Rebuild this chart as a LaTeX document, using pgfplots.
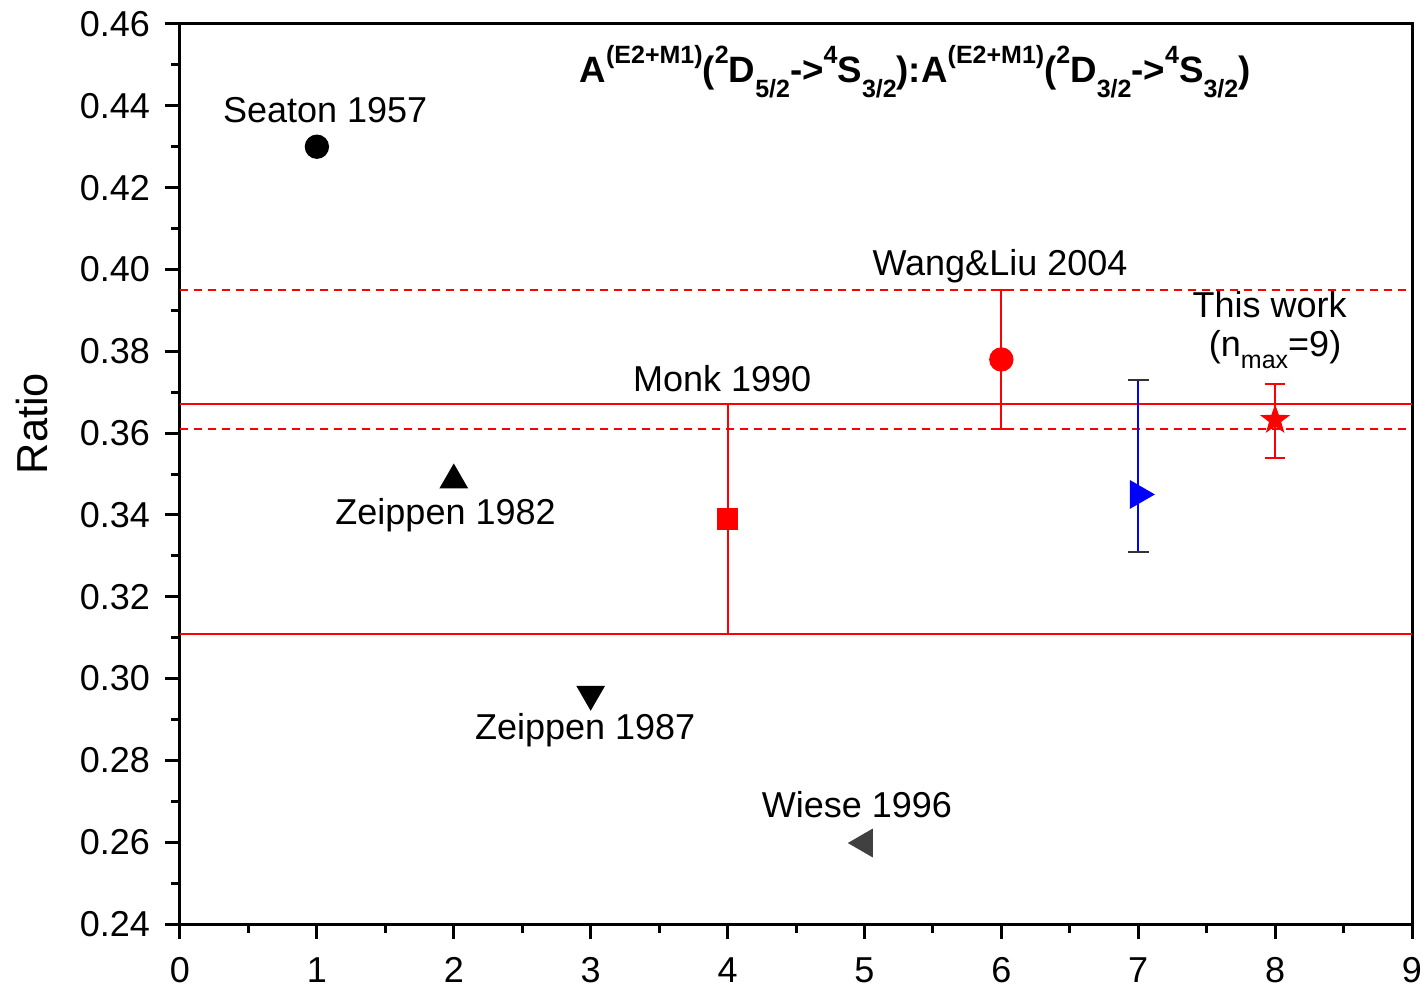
\documentclass[border=0pt]{standalone}
\usepackage{pgfplots}
\pgfplotsset{compat=1.18}
\usepackage{fontspec}
\setmainfont{Liberation Sans}
\usetikzlibrary{plotmarks}
\definecolor{wgray}{rgb}{0.25,0.25,0.25}
\newcommand\up[1]{\raisebox{5.4pt}{\fontsize{7.5}{8}\selectfont #1}}
\newcommand\dn[1]{\raisebox{-4.6pt}{\fontsize{7.5}{8}\selectfont #1}}
\newcommand\dnn[1]{\raisebox{-3.6pt}{\fontsize{7.5}{8}\selectfont #1}}
\pgfdeclareplotmark{fstar}{%
  \pgfpathmoveto{\pgfqpointpolar{90}{\pgfplotmarksize}}%
  \pgfpathlineto{\pgfqpointpolar{126}{0.4\pgfplotmarksize}}%
  \pgfpathlineto{\pgfqpointpolar{162}{\pgfplotmarksize}}%
  \pgfpathlineto{\pgfqpointpolar{198}{0.4\pgfplotmarksize}}%
  \pgfpathlineto{\pgfqpointpolar{234}{\pgfplotmarksize}}%
  \pgfpathlineto{\pgfqpointpolar{270}{0.4\pgfplotmarksize}}%
  \pgfpathlineto{\pgfqpointpolar{306}{\pgfplotmarksize}}%
  \pgfpathlineto{\pgfqpointpolar{342}{0.4\pgfplotmarksize}}%
  \pgfpathlineto{\pgfqpointpolar{18}{\pgfplotmarksize}}%
  \pgfpathlineto{\pgfqpointpolar{54}{0.4\pgfplotmarksize}}%
  \pgfpathclose
  \pgfusepathqfillstroke}
\begin{document}
\begin{tikzpicture}
\begin{axis}[
  name=ax,
  scale only axis,
  width=369.6pt, height=270pt,
  xmin=0, xmax=9, ymin=0.24, ymax=0.46,
  xtick={0,1,...,9},
  ytick={0.24,0.26,...,0.461},
  minor x tick num=1, minor y tick num=1,
  tick align=outside, tick pos=left,
  major tick length=4.5pt, minor tick length=2.6pt,
  every tick/.style={black, line width=0.9pt},
  axis line style={line width=0.9pt},
  /pgf/number format/assume math mode=true,
  yticklabel style={/pgf/number format/fixed, /pgf/number format/fixed zerofill, /pgf/number format/precision=2, xshift=-1pt},
  xticklabel style={yshift=-2pt},
  ticklabel style={font=\fontsize{10.8}{13}\selectfont},
  ylabel={Ratio},
  ylabel style={at={(axis description cs:-0.12,0.556)}, anchor=center, font=\fontsize{13}{15}\selectfont},
  clip=false,
]
% horizontal reference lines
\addplot[red, line width=0.6pt, forget plot] coordinates {(0,0.367) (9,0.367)};
\addplot[red, line width=0.6pt, forget plot] coordinates {(0,0.311) (9,0.311)};
\addplot[red, line width=0.6pt, dash pattern=on 2.4pt off 1.8pt, forget plot] coordinates {(0,0.395) (9,0.395)};
\addplot[red, line width=0.6pt, dash pattern=on 2.4pt off 1.8pt, forget plot] coordinates {(0,0.361) (9,0.361)};
% Seaton 1957
\addplot[only marks, mark=*, mark size=3.45pt, black] coordinates {(1,0.430)};
% Zeippen 1982
\addplot[only marks, mark=triangle*, mark size=4.6pt, black] coordinates {(2,0.3485)};
% Zeippen 1987
\addplot[only marks, mark=triangle*, mark size=4.6pt, black, mark options={rotate=180}] coordinates {(3,0.2962)};
% Monk 1990
\addplot[only marks, mark=square*, mark size=3pt, red,
  error bars/.cd, y dir=both, y explicit,
  error bar style={red, line width=0.6pt},
  error mark options={red, line width=0.6pt, mark size=3pt, rotate=90}]
  coordinates {(4,0.339) +=(0,0.028) -=(0,0.028)};
% Wiese 1996
\addplot[only marks, mark=triangle*, mark size=4.6pt, wgray, mark options={rotate=90}] coordinates {(5,0.2598)};
% Wang & Liu 2004
\addplot[only marks, mark=*, mark size=3.45pt, red,
  error bars/.cd, y dir=both, y explicit,
  error bar style={red, line width=0.6pt},
  error mark options={red, line width=0.6pt, mark size=3pt, rotate=90}]
  coordinates {(6,0.378) +=(0,0.017) -=(0,0.017)};
% blue
\addplot[only marks, mark=triangle*, mark size=4.6pt, blue, mark options={rotate=-90},
  error bars/.cd, y dir=both, y explicit,
  error bar style={blue, line width=0.6pt},
  error mark options={black!80, line width=0.6pt, mark size=3.2pt, rotate=90}]
  coordinates {(7,0.345) +=(0,0.028) -=(0,0.014)};
% This work
\addplot[only marks, mark=fstar, mark size=4.3pt, red, mark options={fill=red, line width=0.3pt},
  error bars/.cd, y dir=both, y explicit,
  error bar style={red, line width=0.6pt},
  error mark options={red, line width=0.6pt, mark size=2.9pt, rotate=90}]
  coordinates {(8,0.3632) +=(0,0.0087) -=(0,0.0093)};
% labels
\begin{scope}[font=\fontsize{10.8}{13}\selectfont]
\node at (axis cs:1.06,0.439) {Seaton 1957};
\node at (axis cs:1.94,0.340) {Zeippen 1982};
\node at (axis cs:2.96,0.2874) {Zeippen 1987};
\node at (axis cs:3.96,0.3732) {Monk 1990};
\node at (axis cs:4.945,0.2691) {Wiese 1996};
\node at (axis cs:5.99,0.4008) {Wang\&Liu 2004};
\node at (axis cs:7.96,0.3913) {This work};
\node at (axis cs:8.0,0.3803) {(n\dnn{max}=9)};
\end{scope}
\node[font=\fontsize{11}{13}\bfseries\selectfont] at (axis cs:5.37,0.4483)
  {A\up{(E2+M1)}(\up{2}D\dn{5/2}->\up{4}S\dn{3/2}):A\up{(E2+M1)}(\up{2}D\dn{3/2}->\up{4}S\dn{3/2})};
\end{axis}
\pgfresetboundingbox
\path[use as bounding box] ([xshift=-54pt,yshift=-19.8pt]ax.south west) rectangle ([xshift=3.3pt,yshift=7.2pt]ax.north east);
\end{tikzpicture}
\end{document}
